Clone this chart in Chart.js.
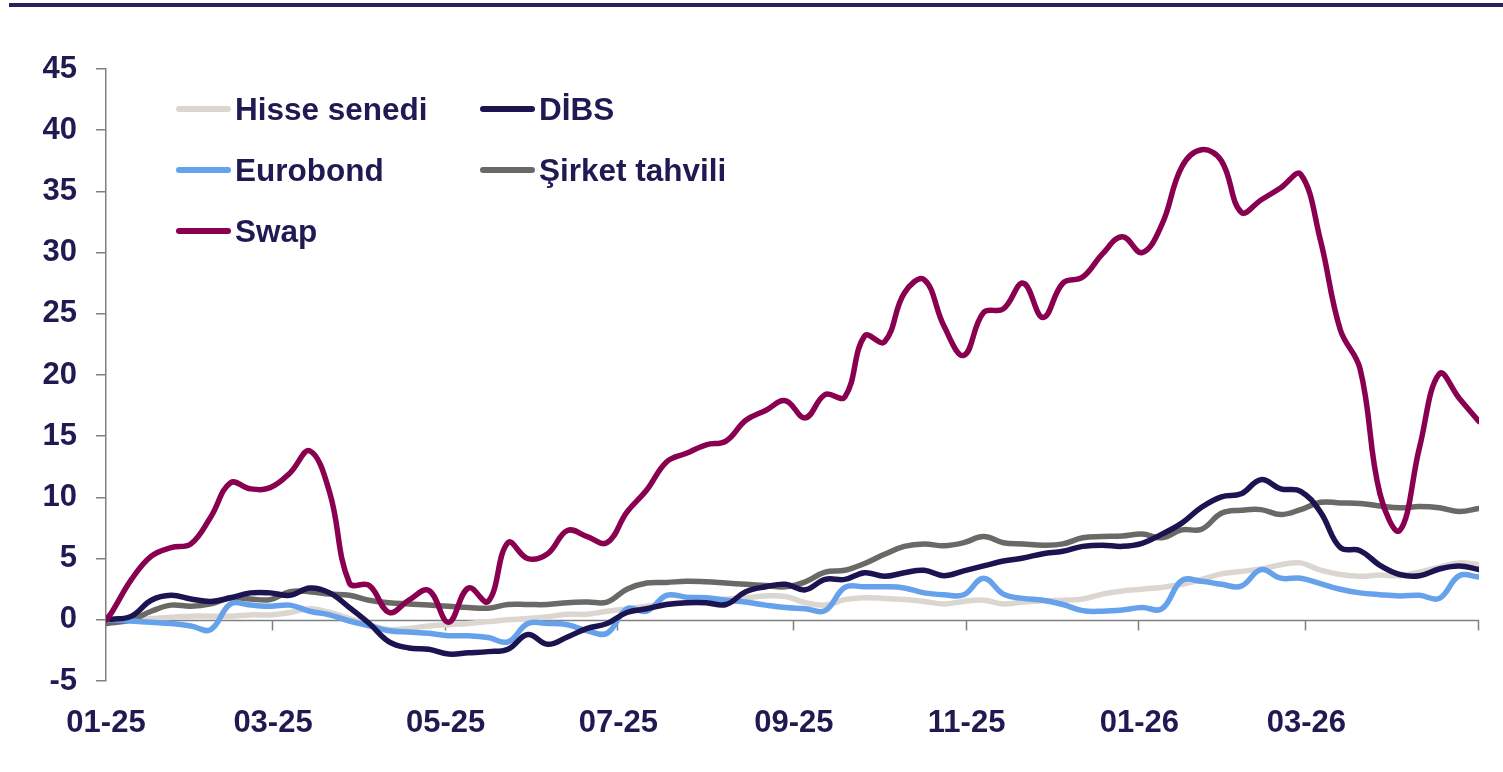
<!DOCTYPE html>
<html lang="tr">
<head>
<meta charset="utf-8">
<title>Yurt dışı yerleşik portföy akımları</title>
<script src="https://cdn.jsdelivr.net/npm/chart.js@4.4.1/dist/chart.umd.min.js"></script>
<style>
  html, body { margin: 0; padding: 0; background: #ffffff; }
  #wrap { position: relative; width: 1503px; height: 772px; overflow: hidden; background: #ffffff; }
  #topRule { position: absolute; left: 9px; right: 0; top: 3px; height: 4px; background: #29225a; }
  #chart { position: absolute; left: 0; top: 0; }
  .legend-item { position: absolute; height: 40px; display: flex; align-items: center; white-space: nowrap;
    font: bold 31.5px "Liberation Sans", Arial, sans-serif; line-height: 40px; color: #1f1b52; }
  .legend-item .swatch { width: 55px; height: 6px; border-radius: 3px; margin-right: 4px; }
</style>
</head>
<body>
<div id="wrap">
  <div id="topRule"></div>
  <canvas id="chart" width="1503" height="772"></canvas>
  <div id="legend"></div>
</div>
<script>
// Days since 2025-01-01: year-start baseline, then weekly Friday readings (03.01.2025 ... 01.05.2026)
const days = [0,2,9,16,23,30,37,44,51,58,65,72,79,86,93,100,107,114,121,128,135,142,149,156,163,170,177,184,191,198,205,212,219,226,233,240,247,254,261,268,275,282,289,296,303,310,317,324,331,338,345,352,359,366,373,380,387,394,401,408,415,422,429,436,443,450,457,464,471,478,485];

// Cumulative flows, bn USD
const hisse  = [-0.2, -0.2,-0.1,0.1,0.2,0.3,0.3,0.3,0.4,0.4,0.6, 0.9,0.6,0.1,-0.4,-0.8,-0.7,-0.5,-0.4,-0.3,-0.15, 0.0,0.1,0.25,0.45,0.45,0.7,0.9,1.1,1.3,1.4, 1.55,1.7,1.8,1.95,1.9,1.4,1.2,1.65,1.8,1.75, 1.65,1.5,1.3,1.5,1.6,1.3,1.45,1.55,1.6,1.7, 2.1,2.35,2.5,2.65,2.9,3.3,3.75,3.95,4.15,4.5, 4.65,4.05,3.7,3.55,3.65,3.6,3.9,4.3,4.65,4.5];
const dibs   = [0.1, 0.05,0.3,1.6,2.0,1.7,1.5,1.8,2.2,2.2,2.0, 2.6,2.2,1.0,-0.3,-1.8,-2.3,-2.4,-2.8,-2.7,-2.6, -2.4,-1.2,-2.0,-1.4,-0.7,-0.3,0.6,0.9,1.25,1.4, 1.4,1.25,2.3,2.7,2.9,2.45,3.3,3.3,3.85,3.55, 3.85,4.05,3.6,4.0,4.4,4.8,5.05,5.4,5.6,6.0, 6.1,6.0,6.25,7.0,7.9,9.2,10.05,10.3,11.45,10.7, 10.5,8.8,5.9,5.65,4.45,3.7,3.6,4.15,4.4,4.1];
const euro   = [0, 0,-0.1,-0.2,-0.3,-0.5,-0.8,1.3,1.2,1.1,1.2, 0.7,0.4,-0.1,-0.5,-0.9,-1.0,-1.1,-1.3,-1.3,-1.45, -1.8,-0.3,-0.3,-0.4,-0.9,-1.1,0.9,0.7,2.0,1.85, 1.8,1.6,1.45,1.2,1.0,0.9,0.75,2.65,2.7,2.7, 2.6,2.2,2.05,2.05,3.4,2.1,1.75,1.6,1.25,0.75, 0.7,0.8,1.0,0.9,3.2,3.15,2.9,2.75,4.1,3.4, 3.4,2.95,2.5,2.2,2.05,1.95,2.0,1.75,3.6,3.5];
const sirket = [-0.3, -0.25,0.0,0.7,1.2,1.1,1.3,1.8,1.7,1.65,2.3, 2.3,2.1,2.0,1.6,1.4,1.3,1.2,1.1,1.0,0.95, 1.25,1.25,1.25,1.4,1.45,1.45,2.5,3.0,3.05,3.15, 3.1,3.0,2.9,2.8,2.7,3.1,3.9,4.05,4.6,5.35, 6.0,6.2,6.05,6.3,6.8,6.3,6.2,6.1,6.2,6.7, 6.8,6.85,7.0,6.7,7.35,7.4,8.7,8.95,9.0,8.6, 9.0,9.6,9.55,9.5,9.3,9.15,9.25,9.15,8.85,9.1];
const swap   = [0, 0.6,3.3,5.2,5.9,6.2,8.4,11.2,10.7,10.8,12.0, 13.8,10.4,3.0,2.8,0.6,1.6,2.4,-0.2,2.6,1.5, 6.3,5.0,5.4,7.3,6.8,6.3,8.8,10.6,12.9,13.6, 14.3,14.6,16.3,17.1,17.9,16.5,18.4,18.2,23.2,22.7, 26.7,27.8,24.0,21.6,25.1,25.4,27.5,24.7,27.5,28.0, 29.9,31.3,30.0,32.3,37.0,38.4,37.5,33.3,34.3,35.3, 36.4,31.0,23.7,20.5,10.3,7.3,14.1,20.1,18.1,16.2];

// Axis ticks: first day of every second month, plus the closing day of the range
const tickDays   = [0, 59, 120, 181, 243, 304, 365, 424, 485];
const tickLabels = ['01-25', '03-25', '05-25', '07-25', '09-25', '11-25', '01-26', '03-26'];
const yTicksMin = -5, yTicksMax = 45, yTicksStep = 5;

const seriesNames  = ['Hisse senedi', 'DİBS', 'Eurobond', 'Şirket tahvili', 'Swap'];
const seriesValues = [hisse, dibs, euro, sirket, swap];
const seriesColors = ['#dcd6d1', '#1c1450', '#66a1ec', '#6b6965', '#8a0050'];
const drawOrder    = [5, 2, 3, 4, 1];

const textColor = '#1f1b52';
const axisColor = '#808080';
const labelFont = { family: '"Liberation Sans", Arial, sans-serif', size: 31, weight: 'bold' };

// Horizontal axis line through zero with downward tick marks at each x tick
const zeroAxis = {
  id: 'zeroAxis',
  beforeDatasetsDraw(chart) {
    const { ctx, chartArea: a, scales: { x, y } } = chart;
    const y0 = Math.round(y.getPixelForValue(0)) + 0.5;
    ctx.save();
    ctx.strokeStyle = axisColor;
    ctx.lineWidth = 1.5;
    ctx.beginPath();
    ctx.moveTo(a.left, y0);
    ctx.lineTo(a.right, y0);
    x.ticks.forEach(t => {
      const px = Math.round(x.getPixelForValue(t.value)) - 0.5;
      if (px > a.left + 2) { ctx.moveTo(px, y0); ctx.lineTo(px, y0 + 10); }
    });
    ctx.stroke();
    ctx.restore();
  }
};

// Two-column legend built from the chart's datasets
const htmlLegend = {
  id: 'htmlLegend',
  afterInit(chart) {
    const box = document.getElementById('legend');
    box.innerHTML = '';
    const colX = [176, 480], rowY = [108.5, 170, 231];
    chart.data.datasets.forEach((ds, i) => {
      const item = document.createElement('div');
      item.className = 'legend-item';
      item.style.left = colX[i % 2] + 'px';
      item.style.top = (rowY[Math.floor(i / 2)] - 20) + 'px';
      const sw = document.createElement('span');
      sw.className = 'swatch';
      sw.style.background = ds.borderColor;
      const tx = document.createElement('span');
      tx.textContent = ds.label;
      item.appendChild(sw);
      item.appendChild(tx);
      box.appendChild(item);
    });
  }
};

new Chart(document.getElementById('chart'), {
  type: 'line',
  data: {
    datasets: seriesNames.map((name, i) => ({
      label: name,
      data: days.map((d, j) => ({ x: d, y: seriesValues[i][j] })),
      borderColor: seriesColors[i],
      backgroundColor: seriesColors[i],
      order: drawOrder[i]
    }))
  },
  options: {
    responsive: false,
    animation: false,
    layout: { padding: { left: 0, right: 24, top: 69, bottom: 0 } },
    plugins: { legend: { display: false }, tooltip: { enabled: false } },
    elements: {
      point: { radius: 0, hoverRadius: 0 },
      line: { tension: 0.4, borderWidth: 5.5, borderCapStyle: 'round', borderJoinStyle: 'round', fill: false }
    },
    scales: {
      x: {
        type: 'linear',
        min: tickDays[0],
        max: tickDays[tickDays.length - 1],
        afterBuildTicks: s => { s.ticks = tickDays.map(v => ({ value: v })); },
        afterFit: s => { s.height = 91; },
        grid: { display: false },
        border: { display: false },
        ticks: {
          autoSkip: false, maxRotation: 0, minRotation: 0,
          padding: 16,
          color: textColor,
          font: labelFont,
          callback: (v, i) => tickLabels[i] ?? ''
        }
      },
      y: {
        min: yTicksMin,
        max: yTicksMax,
        afterFit: s => { s.width = 106; },
        grid: { drawOnChartArea: false, drawTicks: true, tickLength: 10, color: axisColor, lineWidth: 1.5 },
        border: { display: true, color: axisColor, width: 1.5 },
        ticks: { stepSize: yTicksStep, padding: 19, color: textColor, font: labelFont }
      }
    }
  },
  plugins: [zeroAxis, htmlLegend]
});
</script>
</body>
</html>
